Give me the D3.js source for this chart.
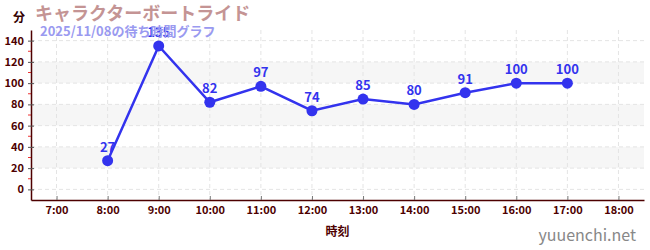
<!DOCTYPE html>
<html>
<head>
<meta charset="utf-8">
<script src="https://cdn.jsdelivr.net/npm/d3@7"></script>
<style>
  body { margin: 0; background: #fff; }
  text { font-family: "Noto Sans CJK JP", "Noto Sans", sans-serif; }
</style>
</head>
<body>
<div id="chart"></div>
<script>
// wait time data
var hours = [8, 9, 10, 11, 12, 13, 14, 15, 16, 17];
var waits = [27, 135, 82, 97, 74, 85, 80, 91, 100, 100];
var xTicks = [7, 8, 9, 10, 11, 12, 13, 14, 15, 16, 17, 18];
var yTicks = [0, 20, 40, 60, 80, 100, 120, 140];

var width = 650, height = 250;
var margin = { top: 30, right: 6, bottom: 50, left: 31 };

var svg = d3.select('#chart').append('svg')
  .attr('width', width)
  .attr('height', height);

var x = d3.scaleLinear().domain([6.5, 18.5]).range([margin.left, width - margin.right]);
var y = d3.scaleLinear().domain([-10, 150]).range([height - margin.bottom, margin.top]);

// background bands
var bands = [[20, 40], [60, 80], [100, 120]];
svg.append('g').selectAll('rect')
  .data(bands)
  .enter().append('rect')
  .attr('x', margin.left)
  .attr('width', width - margin.right - margin.left)
  .attr('y', function(d){ return y(d[1]); })
  .attr('height', function(d){ return y(d[0]) - y(d[1]); })
  .attr('fill', '#f6f6f6');

// grid
svg.append('g').selectAll('line')
  .data(yTicks)
  .enter().append('line')
  .attr('x1', margin.left).attr('x2', width - margin.right)
  .attr('y1', function(d){ return y(d); }).attr('y2', function(d){ return y(d); })
  .attr('stroke', '#e4e4e4').attr('stroke-dasharray', '4,3');

svg.append('g').selectAll('line')
  .data(xTicks)
  .enter().append('line')
  .attr('x1', function(d){ return x(d); }).attr('x2', function(d){ return x(d); })
  .attr('y1', margin.top).attr('y2', height - margin.bottom)
  .attr('stroke', '#e4e4e4').attr('stroke-dasharray', '4,3');

// minor y ticks (red)
svg.append('g').selectAll('line')
  .data(d3.range(10, 150, 20))
  .enter().append('line')
  .attr('x1', margin.left - 3).attr('x2', margin.left)
  .attr('y1', function(d){ return y(d); }).attr('y2', function(d){ return y(d); })
  .attr('stroke', '#e33');

// axes
var axisColor = '#4d0000';
var yAxis = svg.append('g')
  .attr('transform', 'translate(' + margin.left + ',0)')
  .call(d3.axisLeft(y).tickValues(yTicks).tickSize(6).tickSizeOuter(0));
yAxis.selectAll('.tick line').attr('stroke', '#555').attr('transform', 'translate(3,0)');
yAxis.selectAll('.tick text').attr('x', -7).attr('fill', axisColor)
  .style('font-size', '11px').style('font-weight', 'bold');
yAxis.select('.domain').attr('stroke', axisColor).attr('stroke-width', 1.5);

var xAxis = svg.append('g')
  .attr('transform', 'translate(0,' + (height - margin.bottom) + ')')
  .call(d3.axisBottom(x).tickValues(xTicks).tickSize(4).tickSizeOuter(0)
    .tickFormat(function(d){ return d + ':00'; }));
xAxis.selectAll('.tick line').attr('stroke', '#777').attr('transform', 'translate(0,-4)');
xAxis.selectAll('.tick text').attr('fill', axisColor).attr('y', 6)
  .style('font-size', '11px').style('font-weight', 'bold');
xAxis.select('.domain').attr('stroke', axisColor).attr('stroke-width', 1.5);

// line + points
var lineColor = '#3333ee';
var line = d3.line()
  .x(function(d, i){ return x(hours[i]); })
  .y(function(d){ return y(d); });

svg.append('path')
  .datum(waits)
  .attr('d', line)
  .attr('fill', 'none')
  .attr('stroke', lineColor)
  .attr('stroke-width', 2.5);

svg.append('g').selectAll('circle')
  .data(waits)
  .enter().append('circle')
  .attr('cx', function(d, i){ return x(hours[i]); })
  .attr('cy', function(d){ return y(d); })
  .attr('r', 5.5)
  .attr('fill', lineColor);

svg.append('g').selectAll('text')
  .data(waits)
  .enter().append('text')
  .attr('x', function(d, i){ return x(hours[i]); })
  .attr('y', function(d){ return y(d) - 9; })
  .attr('text-anchor', 'middle')
  .attr('fill', lineColor)
  .style('font-size', '13px')
  .style('font-weight', 'bold')
  .text(function(d){ return d; });

// titles
svg.append('text')
  .attr('x', 35).attr('y', 20)
  .attr('fill', '#c49494')
  .style('font-size', '18px').style('font-weight', 'bold')
  .text('キャラクターボートライド');

svg.append('text')
  .attr('x', 40).attr('y', 36)
  .attr('fill', '#9a9af0')
  .style('font-size', '13px').style('font-weight', 'bold')
  .text('2025/11/08の待ち時間グラフ');

svg.append('text')
  .attr('x', 13).attr('y', 22)
  .attr('fill', '#330000')
  .style('font-size', '12px').style('font-weight', 'bold')
  .text('分');

svg.append('text')
  .attr('x', (margin.left + width - margin.right) / 2).attr('y', 236)
  .attr('text-anchor', 'middle')
  .attr('fill', axisColor)
  .style('font-size', '12px').style('font-weight', 'bold')
  .text('時刻');

svg.append('text')
  .attr('x', 636).attr('y', 241)
  .attr('text-anchor', 'end')
  .attr('fill', '#888')
  .style('font-size', '16px')
  .text('yuuenchi.net');
</script>
</body>
</html>
